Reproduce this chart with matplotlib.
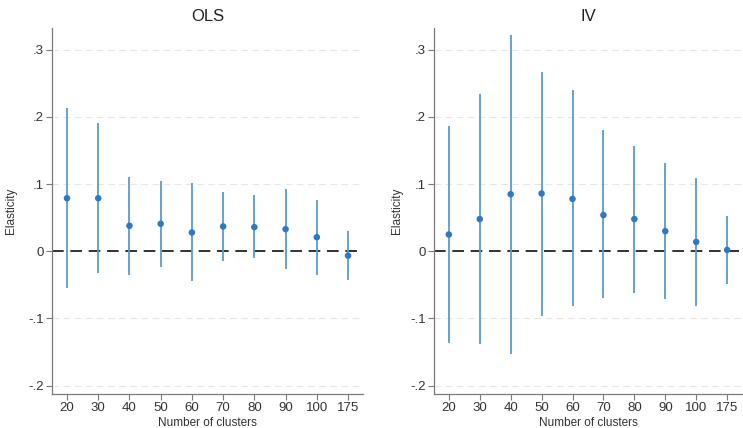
import matplotlib
matplotlib.use("Agg")
import matplotlib.pyplot as plt

plt.rcParams['font.family'] = ['Liberation Sans', 'DejaVu Sans']

clusters = ["20", "30", "40", "50", "60", "70", "80", "90", "100", "175"]

ols_est = [0.079, 0.079, 0.038, 0.041, 0.028, 0.037, 0.036, 0.033, 0.021, -0.0065]
ols_hi = [0.213, 0.191, 0.111, 0.105, 0.102, 0.088, 0.084, 0.093, 0.077, 0.030]
ols_lo = [-0.054, -0.033, -0.036, -0.024, -0.044, -0.015, -0.010, -0.026, -0.035, -0.042]

iv_est = [0.025, 0.048, 0.085, 0.086, 0.078, 0.054, 0.048, 0.030, 0.014, 0.002]
iv_hi = [0.187, 0.234, 0.322, 0.267, 0.240, 0.180, 0.157, 0.132, 0.109, 0.053]
iv_lo = [-0.137, -0.138, -0.153, -0.096, -0.082, -0.070, -0.062, -0.071, -0.082, -0.049]

yticks = [-0.2, -0.1, 0, 0.1, 0.2, 0.3]
ytick_labels = ["-.2", "-.1", "0", ".1", ".2", ".3"]

line_color = "#5a9ccb"
point_color = "#2f79c3"
axis_color = "#7a7a7a"

fig = plt.figure(figsize=(7.43, 4.28), dpi=100)
positions = [[0.070, 0.0794, 0.4186, 0.8551], [0.5841, 0.0794, 0.4145, 0.8551]]
panels = [("OLS", ols_est, ols_lo, ols_hi, 8), ("IV", iv_est, iv_lo, iv_hi, 5)]

for pos, (title, est, lo, hi, lpad) in zip(positions, panels):
    ax = fig.add_axes(pos)
    x = list(range(len(clusters)))
    for yt in yticks:
        if yt != 0:
            ax.axhline(yt, color="#e6e6e6", lw=0.8, ls=(0, (6, 4)), zorder=0)
    ax.axhline(0, color="#111111", lw=1.2, ls=(0, (7, 4)), zorder=1)
    ax.vlines(x, lo, hi, color=line_color, lw=1.3, zorder=2)
    ax.scatter(x, est, s=22, color=point_color, zorder=3, edgecolors="none")
    ax.set_xlim(-0.48, len(clusters) - 0.52)
    ax.set_ylim(-0.2124, 0.3323)
    ax.set_xticks(x)
    ax.set_xticklabels(clusters, fontsize=9.5, color="#333333")
    ax.set_yticks(yticks)
    ax.set_yticklabels(ytick_labels, fontsize=9.5, color="#333333")
    ax.tick_params(axis="both", length=4, width=0.8, color=axis_color, pad=2)
    for s in ["top", "right"]:
        ax.spines[s].set_visible(False)
    for s in ["left", "bottom"]:
        ax.spines[s].set_color(axis_color)
        ax.spines[s].set_linewidth(0.9)
    ax.set_xlabel("Number of clusters", fontsize=8.5, color="#333333", labelpad=2)
    ax.set_ylabel("Elasticity", fontsize=8.5, color="#333333", labelpad=lpad)
    ax.set_title(title, fontsize=12, color="#222222", pad=5)

fig.savefig("out.png", dpi=100, facecolor="white")
